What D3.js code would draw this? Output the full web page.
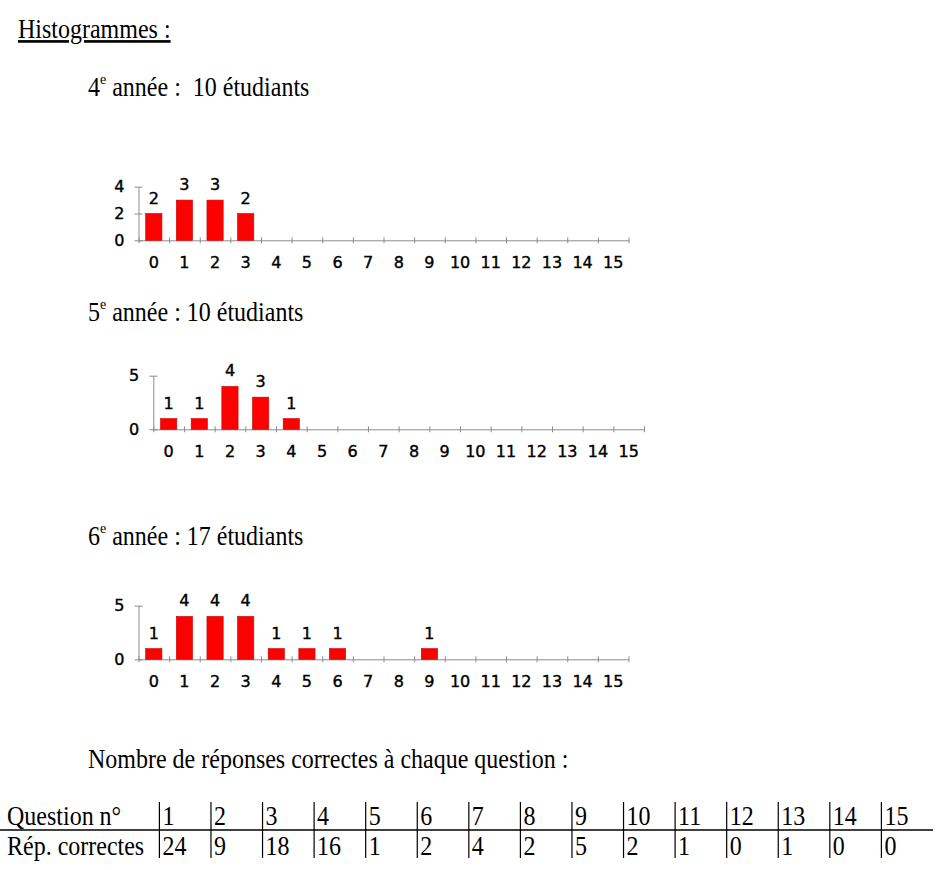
<!DOCTYPE html>
<html>
<head>
<meta charset="utf-8">
<script src="https://cdn.jsdelivr.net/npm/d3@7"></script>
<style>
  body { margin: 0; background: #fff; }
  .serif { font-family: "Liberation Serif", "Times New Roman", serif; font-size: 24px; fill: #000; }
  .chart .domain, .chart .tick line { stroke: #8c8c8c; stroke-width: 1; }
</style>
</head>
<body>
<div id="page"></div>
<script>
// histogram data: number of students per count of correct answers (0..15)
const scores = d3.range(16)
const counts4 = [2, 3, 3, 2, 0, 0, 0, 0, 0, 0, 0, 0, 0, 0, 0, 0]
const counts5 = [1, 1, 4, 3, 1, 0, 0, 0, 0, 0, 0, 0, 0, 0, 0, 0]
const counts6 = [1, 4, 4, 4, 1, 1, 1, 0, 0, 1, 0, 0, 0, 0, 0, 0]
const yTicks4 = [0, 2, 4]
const yTicks5 = [0, 5]
const yTicks6 = [0, 5]

// table data
const questions = d3.range(1, 16)
const correct = [24, 9, 18, 16, 1, 2, 4, 2, 5, 2, 1, 0, 1, 0, 0]

var width = 938
var height = 870
var chartFont = '"DejaVu Sans", Verdana, sans-serif'

var svg = d3.select("#page")
    .append("svg")
    .attr("width", width)
    .attr("height", height)

// serif text, slightly taller than wide like the scanned page
function line(x, y, parts) {
    var g = svg.append("g")
        .attr("transform", "translate(" + x + "," + y + ") scale(1,1.1)")
    var t = g.append("text").attr("class", "serif")
    var back = 0
    parts.forEach(p => {
        if (typeof p === "object") {
            t.append("tspan").attr("dy", -11).style("font-size", "14px").text(p.exp)
            back = 11
        } else {
            t.append("tspan").attr("dy", back).text(p)
            back = 0
        }
    })
    return t
}

line(18, 38, ["Histogrammes :"]).style("text-decoration", "underline")
line(88, 96, ["4", {exp: "e"}, " année :\u00a0 10 étudiants"])
line(88, 321, ["5", {exp: "e"}, " année : 10 étudiants"])
line(88, 545, ["6", {exp: "e"}, " année : 17 étudiants"])
line(88, 768, ["Nombre de réponses correctes à chaque question :"])

function chartText(sel) {
    sel.style("font-family", chartFont).style("font-size", "16px")
        .style("fill", "#000").style("stroke", "#000").style("stroke-width", 0.4)
}

function histogram(counts, yTicks, x0, x1, y0) {
    var plotH = 53.6
    var g = svg.append("g").attr("class", "chart")

    var x = d3.scaleBand()
        .domain(scores)
        .range([x0, x1])
        .paddingInner(0.47)
        .paddingOuter(0.235)

    var edges = d3.scaleLinear().domain([0, scores.length]).range([x0, x1])

    var y = d3.scaleLinear()
        .domain([0, d3.max(yTicks)])
        .range([y0, y0 - plotH])

    // category boundary ticks + baseline
    var xb = g.append("g")
        .attr("transform", "translate(0," + y0 + ")")
        .call(d3.axisBottom(edges).tickValues(d3.range(scores.length + 1)).tickFormat("").tickSizeOuter(0))
    xb.selectAll(".tick line").attr("y1", -3).attr("y2", 3)

    // category labels
    var xl = g.append("g")
        .attr("transform", "translate(0," + y0 + ")")
        .call(d3.axisBottom(x).tickSize(0).tickPadding(16))
    xl.select(".domain").remove()
    xl.selectAll("text").call(chartText)

    var ya = g.append("g")
        .attr("transform", "translate(" + x0 + ",0)")
        .call(d3.axisLeft(y).tickValues(yTicks).tickFormat(d3.format("d")).tickSize(4).tickPadding(10).tickSizeOuter(0))
    ya.selectAll(".tick line").attr("x1", 4).attr("x2", -4)
    ya.selectAll("text").call(chartText)

    var data = scores.map((s, i) => ({score: s, n: counts[i]})).filter(d => d.n > 0)

    g.selectAll("rect.bar")
        .data(data)
        .enter()
        .append("rect")
        .attr("class", "bar")
        .attr("x", d => x(d.score))
        .attr("width", x.bandwidth())
        .attr("y", d => y(d.n))
        .attr("height", d => y(0) - y(d.n))
        .attr("fill", "#ff0000")
        .attr("stroke", "#c80000")
        .attr("stroke-width", 0.6)

    g.selectAll("text.val")
        .data(data)
        .enter()
        .append("text")
        .attr("class", "val")
        .attr("x", d => x(d.score) + x.bandwidth() / 2)
        .attr("y", d => y(d.n) - 10)
        .attr("text-anchor", "middle")
        .text(d => d.n)
        .call(chartText)
}

histogram(counts4, yTicks4, 138.5, 628.5, 240.3)
histogram(counts5, yTicks5, 153.3, 644, 429.3)
histogram(counts6, yTicks6, 138.5, 628.5, 659.3)

// table of correct answers per question
var colX = d3.scaleLinear().domain([0, questions.length - 1]).range([159.4, 881.4])

svg.append("line")
    .attr("x1", 0).attr("x2", 933)
    .attr("y1", 830).attr("y2", 830)
    .attr("stroke", "#000").attr("stroke-width", 1.4)

svg.selectAll("line.col")
    .data(questions)
    .enter()
    .append("line")
    .attr("class", "col")
    .attr("x1", (d, i) => colX(i)).attr("x2", (d, i) => colX(i))
    .attr("y1", 802).attr("y2", 858)
    .attr("stroke", "#000").attr("stroke-width", 1.2)

line(7, 825, ["Question n°"])
line(7, 855, ["Rép. correctes"])

questions.forEach((q, i) => {
    line(colX(i) + 3, 825, [String(q)])
    line(colX(i) + 3, 855, [String(correct[i])])
})
</script>
</body>
</html>
